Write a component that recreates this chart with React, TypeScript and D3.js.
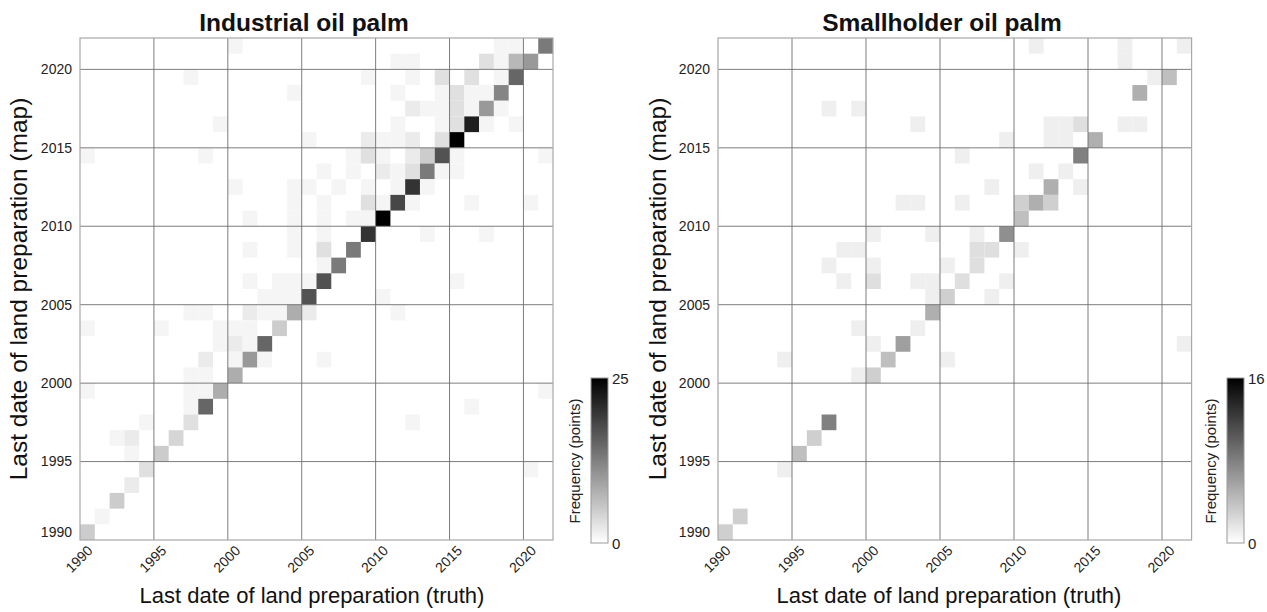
import React from "react";
import * as d3 from "d3";

// [truth year, map year, count]
const industrialCells: [number, number, number][] = [
  [2000, 2021, 1], [2018, 2021, 1], [2019, 2021, 1], [2021, 2021, 13],
  [2011, 2020, 1], [2012, 2020, 1], [2017, 2020, 3], [2018, 2020, 1], [2019, 2020, 7], [2020, 2020, 10],
  [1997, 2019, 1], [2009, 2019, 1], [2012, 2019, 1], [2014, 2019, 3], [2016, 2019, 3], [2018, 2019, 1], [2019, 2019, 15],
  [2004, 2018, 1], [2011, 2018, 1], [2014, 2018, 1], [2015, 2018, 3], [2016, 2018, 1], [2017, 2018, 1], [2018, 2018, 12],
  [2012, 2017, 2], [2013, 2017, 1], [2014, 2017, 1], [2015, 2017, 3], [2016, 2017, 1], [2017, 2017, 10], [2018, 2017, 1],
  [1999, 2016, 1], [2011, 2016, 1], [2014, 2016, 1], [2015, 2016, 3], [2016, 2016, 22], [2017, 2016, 1], [2019, 2016, 1],
  [2005, 2015, 1], [2009, 2015, 2], [2010, 2015, 1], [2011, 2015, 1], [2012, 2015, 2], [2014, 2015, 3], [2015, 2015, 25],
  [1990, 2014, 1], [1998, 2014, 1], [2008, 2014, 1], [2009, 2014, 3], [2010, 2014, 1], [2012, 2014, 2], [2013, 2014, 5], [2014, 2014, 17], [2015, 2014, 1], [2021, 2014, 1],
  [2006, 2013, 1], [2008, 2013, 1], [2010, 2013, 2], [2011, 2013, 1], [2012, 2013, 3], [2013, 2013, 13], [2014, 2013, 1], [2015, 2013, 1],
  [2000, 2012, 1], [2004, 2012, 1], [2005, 2012, 1], [2007, 2012, 1], [2009, 2012, 1], [2011, 2012, 1], [2012, 2012, 20], [2013, 2012, 1],
  [2004, 2011, 1], [2006, 2011, 1], [2009, 2011, 3], [2010, 2011, 1], [2011, 2011, 18], [2012, 2011, 1], [2016, 2011, 1], [2020, 2011, 1],
  [2001, 2010, 1], [2004, 2010, 1], [2006, 2010, 1], [2008, 2010, 1], [2009, 2010, 1], [2010, 2010, 25],
  [2004, 2009, 1], [2006, 2009, 1], [2009, 2009, 20], [2013, 2009, 1], [2017, 2009, 1],
  [2001, 2008, 1], [2004, 2008, 1], [2006, 2008, 3], [2008, 2008, 13],
  [2006, 2007, 1], [2007, 2007, 13],
  [2001, 2006, 1], [2003, 2006, 1], [2004, 2006, 1], [2005, 2006, 1], [2006, 2006, 17], [2015, 2006, 1],
  [2002, 2005, 1], [2003, 2005, 1], [2004, 2005, 1], [2005, 2005, 17], [2010, 2005, 1],
  [1997, 2004, 1], [1998, 2004, 1], [2001, 2004, 2], [2002, 2004, 1], [2003, 2004, 1], [2004, 2004, 8], [2005, 2004, 2], [2011, 2004, 1],
  [1990, 2003, 1], [1995, 2003, 1], [1999, 2003, 1], [2000, 2003, 1], [2001, 2003, 1], [2003, 2003, 5],
  [1999, 2002, 1], [2000, 2002, 2], [2001, 2002, 1], [2002, 2002, 15],
  [1998, 2001, 2], [2000, 2001, 1], [2001, 2001, 10], [2002, 2001, 1], [2006, 2001, 1],
  [1997, 2000, 1], [1998, 2000, 1], [2000, 2000, 8],
  [1990, 1999, 1], [1997, 1999, 1], [1998, 1999, 1], [1999, 1999, 8], [2021, 1999, 1],
  [1997, 1998, 1], [1998, 1998, 15], [2016, 1998, 1],
  [1994, 1997, 1], [1997, 1997, 3], [2012, 1997, 1],
  [1992, 1996, 1], [1993, 1996, 2], [1996, 1996, 4],
  [1993, 1995, 1], [1995, 1995, 5],
  [1994, 1994, 3], [2020, 1994, 1],
  [1993, 1993, 2],
  [1992, 1992, 5],
  [1991, 1991, 1],
  [1990, 1990, 5],
];

const smallholderCells: [number, number, number][] = [
  [2011, 2021, 1], [2017, 2021, 1], [2021, 2021, 1],
  [2017, 2020, 1],
  [2019, 2019, 1], [2020, 2019, 4],
  [2018, 2018, 5],
  [1997, 2017, 1], [1999, 2017, 1],
  [2003, 2016, 1], [2012, 2016, 1], [2013, 2016, 1], [2014, 2016, 2], [2017, 2016, 1], [2018, 2016, 1],
  [2009, 2015, 1], [2012, 2015, 1], [2013, 2015, 1], [2015, 2015, 5],
  [2006, 2014, 1], [2014, 2014, 8],
  [2011, 2013, 1], [2013, 2013, 1],
  [2008, 2012, 1], [2012, 2012, 5], [2014, 2012, 1],
  [2002, 2011, 1], [2003, 2011, 1], [2006, 2011, 1], [2010, 2011, 3], [2011, 2011, 5], [2012, 2011, 3],
  [2010, 2010, 4],
  [2000, 2009, 1], [2004, 2009, 1], [2007, 2009, 1], [2009, 2009, 7],
  [1998, 2008, 1], [1999, 2008, 1], [2007, 2008, 2], [2008, 2008, 2], [2010, 2008, 1],
  [1997, 2007, 1], [2000, 2007, 1], [2005, 2007, 1], [2007, 2007, 2],
  [1998, 2006, 1], [2000, 2006, 2], [2003, 2006, 1], [2004, 2006, 1], [2006, 2006, 2], [2009, 2006, 1],
  [2004, 2005, 1], [2005, 2005, 3], [2008, 2005, 1],
  [2004, 2004, 5],
  [1999, 2003, 1], [2003, 2003, 1],
  [2000, 2002, 1], [2002, 2002, 6], [2021, 2002, 1],
  [1994, 2001, 1], [2001, 2001, 4], [2005, 2001, 1],
  [1999, 2000, 1], [2000, 2000, 3],
  [1997, 1997, 8],
  [1996, 1996, 3],
  [1995, 1995, 4],
  [1994, 1994, 1],
  [1991, 1991, 3],
  [1990, 1990, 3],
];

const tickYears = [1990, 1995, 2000, 2005, 2010, 2015, 2020];
const panelTitles = ["Industrial oil palm", "Smallholder oil palm"];
const panelMax = [25, 16];
const xTitle = "Last date of land preparation (truth)";
const yTitle = "Last date of land preparation (map)";
const cbTitle = "Frequency (points)";

const FONT = "'Liberation Sans', Arial, Helvetica, sans-serif";

type PanelProps = {
  idx: number;
  x0: number;
  x1: number;
  cells: [number, number, number][];
  max: number;
  title: string;
  titleX: number;
  xTitleX: number;
  yTitleX: number;
  cbX: number;
};

function Panel({ idx, x0, x1, cells, max, title, titleX, xTitleX, yTitleX, cbX }: PanelProps) {
  const top = 38;
  const bottom = 540;
  const xs = d3.scaleLinear().domain([1990, 2022]).range([x0, x1]);
  const ys = d3.scaleLinear().domain([1990, 2022]).range([bottom, top]);
  const color = d3.scaleLinear<string>().domain([0, max]).range(["#ffffff", "#000000"]).interpolate(d3.interpolateRgb);
  const cbTop = 378;
  const cbBottom = 543;
  const cbW = 17;
  const cbScale = d3.scaleLinear().domain([0, max]).range([cbBottom, cbTop]);
  const gradId = `cbgrad${idx}`;
  return (
    <g>
      <text x={titleX} y={31} textAnchor="middle" fontFamily={FONT} fontWeight="bold" fontSize={24.5} fill="#111">
        {title}
      </text>
      <rect x={x0} y={top} width={x1 - x0} height={bottom - top} fill="#fff" />
      {cells.map(([t, m, v], i) => (
        <rect
          key={i}
          x={xs(t)}
          y={ys(m + 1)}
          width={xs(t + 1) - xs(t)}
          height={ys(m) - ys(m + 1)}
          fill={color(v)}
        />
      ))}
      {tickYears.filter((t) => t > 1990).map((t) => (
        <line key={`vx${t}`} x1={xs(t)} x2={xs(t)} y1={top} y2={bottom} stroke="#6e6e6e" strokeWidth={0.9} />
      ))}
      {tickYears.filter((t) => t > 1990).map((t) => (
        <line key={`hy${t}`} x1={x0} x2={x1} y1={ys(t)} y2={ys(t)} stroke="#6e6e6e" strokeWidth={0.9} />
      ))}
      <rect x={x0} y={top} width={x1 - x0} height={bottom - top} fill="none" stroke="#a8a8a8" strokeWidth={1.2} />
      {tickYears.map((t) => (
        <text
          key={`yl${t}`}
          x={x0 - 8}
          y={Math.min(ys(t), bottom - 8)}
          dy="0.35em"
          textAnchor="end"
          fontFamily={FONT}
          fontSize={14}
          fill="#222"
        >
          {t}
        </text>
      ))}
      {tickYears.map((t) => (
        <text
          key={`xl${t}`}
          transform={`translate(${xs(t) + 10},${548}) rotate(-45)`}
          dy="0.35em"
          textAnchor="end"
          fontFamily={FONT}
          fontSize={14}
          fill="#222"
        >
          {t}
        </text>
      ))}
      <text x={xTitleX} y={603} textAnchor="middle" fontFamily={FONT} fontSize={22} fill="#111">
        {xTitle}
      </text>
      <text
        transform={`translate(${yTitleX},${289}) rotate(-90)`}
        textAnchor="middle"
        fontFamily={FONT}
        fontSize={24.5}
        fill="#111"
      >
        {yTitle}
      </text>
      <defs>
        <linearGradient id={gradId} x1="0" y1="1" x2="0" y2="0">
          {d3.range(0, 11).map((k) => (
            <stop key={k} offset={`${k * 10}%`} stopColor={color((k / 10) * max)} />
          ))}
        </linearGradient>
      </defs>
      <rect x={cbX} y={cbTop} width={cbW} height={cbBottom - cbTop} fill={`url(#${gradId})`} stroke="#9a9a9a" strokeWidth={1} />
      {[0, max].map((v) => (
        <text key={`cb${v}`} x={cbX + cbW + 4} y={cbScale(v) + 1} dy="0.35em" fontFamily={FONT} fontSize={15} fill="#222">
          {v}
        </text>
      ))}
      <text
        transform={`translate(${cbX - 11},${461}) rotate(-90)`}
        textAnchor="middle"
        fontFamily={FONT}
        fontSize={15}
        fill="#222"
      >
        {cbTitle}
      </text>
    </g>
  );
}

export default function App() {
  return (
    <div style={{ position: "absolute", left: 0, top: 0 }}>
      <svg width={1267} height={612} style={{ display: "block", background: "#fff" }}>
        <Panel
          idx={0}
          x0={80}
          x1={553}
          cells={industrialCells}
          max={panelMax[0]}
          title={panelTitles[0]}
          titleX={304}
          xTitleX={312}
          yTitleX={27}
          cbX={591}
        />
        <Panel
          idx={1}
          x0={718}
          x1={1191.6}
          cells={smallholderCells}
          max={panelMax[1]}
          title={panelTitles[1]}
          titleX={942}
          xTitleX={949}
          yTitleX={666}
          cbX={1227}
        />
      </svg>
    </div>
  );
}
